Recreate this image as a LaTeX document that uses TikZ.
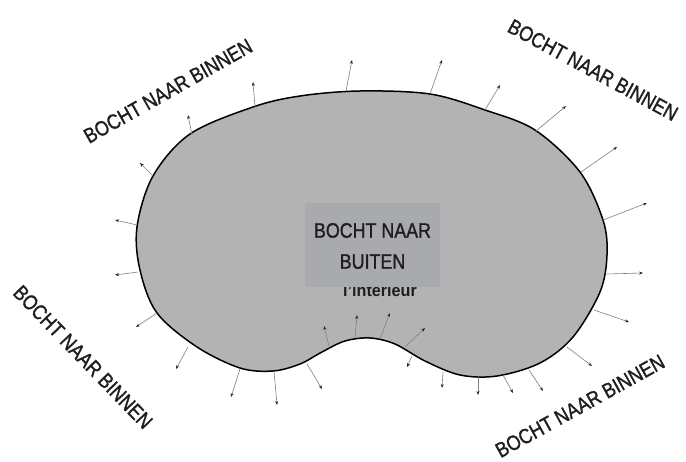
\documentclass[tikz,border=0pt]{standalone}
\usepackage{fontspec}
\setmainfont{Liberation Sans}[FakeStretch=0.85,FakeBold=1.2]
\newfontfamily\interfont{Liberation Sans}[FakeStretch=0.95]
\usetikzlibrary{arrows.meta}
\definecolor{shapegray}{HTML}{B3B3B3}
\definecolor{boxgray}{HTML}{A9AAAE}
\definecolor{txt}{HTML}{1E1E1E}
\tikzset{
  normal/.style={draw=black!50, line width=0.6pt, -{Stealth[length=4pt,width=3pt,color=black!85]}},
  cornerlabel/.style={font=\fontsize{21}{23}\selectfont, text=txt, inner sep=0pt},
  centerbox/.style={fill=boxgray, minimum width=135pt, minimum height=84pt, inner sep=0pt},
}
\begin{document}
\begin{tikzpicture}[x=1pt,y=-1pt]
\useasboundingbox (0,0) rectangle (686,462);
\fill[white] (0,0) rectangle (686,462);
% kidney shape
\draw[fill=shapegray, line width=1.5pt, line join=round]
  plot[smooth cycle, tension=0.55] coordinates {
    (360,91) (430,94) (485,110) (535,130) (580,172) (603,220) (607,255)
    (600,292) (573,337) (540,363) (497,376) (460,375) (425,361) (395,344)
    (370,338) (345,341) (322,352) (300,364) (273,371) (240,368) (197,347)
    (157,313) (140,270) (137,227) (153,176) (190,134) (253,107) (300,96)
  };
% normal arrows
\foreach \sx/\sy/\ex/\ey in {
  137/225/115/220, 153/176/140/163, 192/135/188/115, 255/107/253/82,
  346/91/352/60, 430/94/442/60, 485/110/500/85, 536/131/566/106,
  581/172/617/147, 603/220/647/203, 607/274/643/273, 594/310/629/322,
  567/347/592/366, 529/370/543/391, 503/375/513/393, 478/377/478/395,
  443/372/442/388, 412/356/407/367, 405/347/425/328, 380/339/390/313,
  355/338/357/315, 329/346/324/326, 307/364/322/389, 274/371/277/405,
  240/369/231/397, 188/347/176/369, 157/313/136/327, 138/272/115/275}
  \draw[normal] (\sx,\sy) -- (\ex,\ey);
% label partly hidden under box
\node[font=\interfont\fontsize{17}{19}\selectfont\bfseries, text=txt, inner sep=0pt, anchor=base] (inter) at (380,297) {l’intérieur};
% center box
\node[centerbox] (box) at (372.5,245) {};
\node[font=\fontsize{21}{31}\selectfont, text=txt, align=center, inner sep=0pt] (boxtext) at (372.5,246) {BOCHT NAAR\\BUITEN};
% corner labels
\node[cornerlabel, rotate=29.5] (tl) at (168,91) {BOCHT NAAR BINNEN};
\node[cornerlabel, rotate=-28.5] (tr) at (593,70) {BOCHT NAAR BINNEN};
\node[cornerlabel, rotate=-46] (bl) at (83,357) {BOCHT NAAR BINNEN};
\node[cornerlabel, rotate=29] (br) at (580,406) {BOCHT NAAR BINNEN};
\end{tikzpicture}
\end{document}
